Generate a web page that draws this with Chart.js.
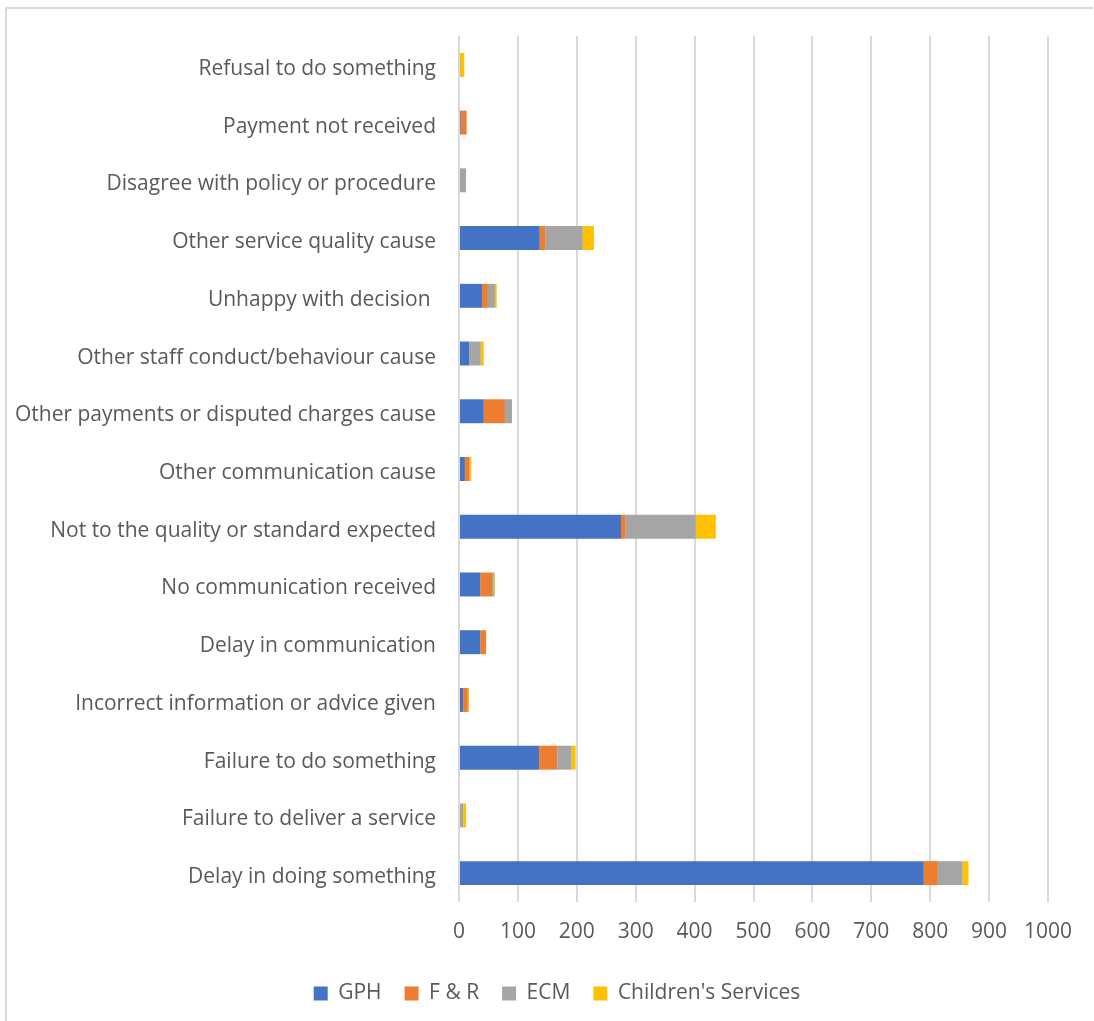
<!DOCTYPE html>
<html>
<head>
<meta charset="utf-8">
<script src="https://cdn.jsdelivr.net/npm/chart.js@4/dist/chart.umd.min.js"></script>
<style>
  html, body { margin: 0; padding: 0; background: #fff; }
  #wrap { position: relative; width: 1094px; height: 1021px; }
</style>
</head>
<body>
<div id="wrap"><canvas id="complaintsChart"></canvas></div>
<script>
  const categories = [
    "Refusal to do something",
    "Payment not received",
    "Disagree with policy or procedure",
    "Other service quality cause",
    "Unhappy with decision ",
    "Other staff conduct/behaviour cause",
    "Other payments or disputed charges cause",
    "Other communication cause",
    "Not to the quality or standard expected",
    "No communication received",
    "Delay in communication",
    "Incorrect information or advice given",
    "Failure to do something",
    "Failure to deliver a service",
    "Delay in doing something"
  ];

  const gph = [2, 3, 2, 137, 39, 17, 42, 10, 275, 36, 36, 7, 136, 2, 789];
  const fAndR = [0, 10, 0, 10, 10, 0, 36, 8, 8, 20, 10, 8, 31, 0, 24];
  const ecm = [0, 0, 10, 63, 12, 20, 12, 0, 119, 3, 0, 0, 24, 5, 42];
  const childrens = [7, 0, 0, 19, 3, 5, 0, 3, 34, 2, 0, 2, 7, 5, 10];

  const seriesNames = ["GPH", "F & R", "ECM", "Children's Services"];
  const seriesColors = ["#4472C4", "#ED7D31", "#A5A5A5", "#FFC000"];

  const axisMax = 1000;
  const axisStep = 100;

  const textColor = "#595959";
  const gridColor = "#D9D9D9";
  const fontFamily = "'Open Sans', Lato, sans-serif";
  const fontSize = 21;

  // thin grey frame on the top and left edges, like the source image
  const framePlugin = {
    id: "frame",
    beforeDraw(chart) {
      const ctx = chart.ctx;
      ctx.save();
      ctx.strokeStyle = gridColor;
      ctx.lineWidth = 2;
      ctx.beginPath();
      ctx.moveTo(6, 1021);
      ctx.lineTo(6, 8);
      ctx.lineTo(1093, 8);
      ctx.stroke();
      ctx.restore();
    }
  };

  // nudge the legend right so it is centred on the whole picture, not on the padded box
  const legendShift = {
    id: "legendShift",
    afterLayout(chart) {
      if (chart.legend) chart.legend.left += 66;
    }
  };

  const datasets = [gph, fAndR, ecm, childrens].map((values, i) => ({
    label: seriesNames[i],
    data: values,
    backgroundColor: seriesColors[i],
    borderWidth: 0,
    barPercentage: 0.415,
    categoryPercentage: 1.0
  }));

  new Chart(document.getElementById("complaintsChart"), {
    type: "bar",
    data: { labels: categories, datasets: datasets },
    plugins: [framePlugin, legendShift],
    options: {
      indexAxis: "y",
      responsive: true,
      maintainAspectRatio: false,
      animation: false,
      layout: { padding: { top: 36, right: 46, bottom: 7, left: 0 } },
      scales: {
        x: {
          stacked: true,
          min: 0,
          max: axisMax,
          ticks: {
            stepSize: axisStep,
            color: textColor,
            font: { family: fontFamily, size: fontSize },
            padding: 17,
            maxRotation: 0,
            callback: (v) => String(v)
          },
          grid: { color: gridColor, lineWidth: 2, drawTicks: false },
          border: { display: false },
          afterFit(scale) { scale.height = 58; }
        },
        y: {
          stacked: true,
          ticks: {
            color: textColor,
            font: { family: fontFamily, size: fontSize },
            padding: 23,
            labelOffset: 4,
            autoSkip: false
          },
          grid: { display: false, drawTicks: false },
          border: { display: false },
          afterFit(scale) { scale.width = 459; }
        }
      },
      plugins: {
        legend: {
          position: "bottom",
          labels: {
            color: textColor,
            font: { family: fontFamily, size: fontSize },
            boxWidth: 14,
            boxHeight: 14,
            padding: 23
          }
        },
        tooltip: { enabled: false }
      }
    }
  });
</script>
</body>
</html>
